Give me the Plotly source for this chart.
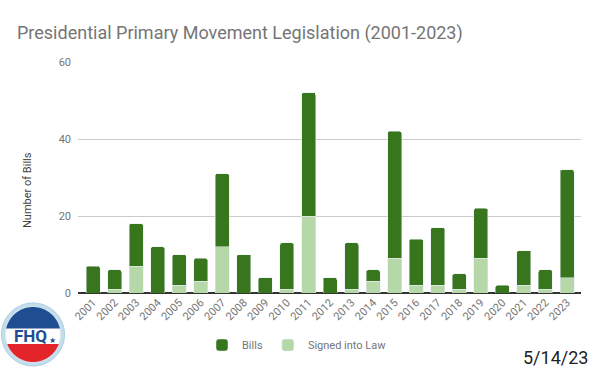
import math
import plotly.graph_objects as go

years = [str(y) for y in range(2001, 2024)]
bills = [7, 6, 18, 12, 10, 9, 31, 10, 4, 13, 52, 4, 13, 6, 42, 14, 17, 5, 22, 2, 11, 6, 32]
signed = [0, 1, 7, 0, 2, 3, 12, 0, 0, 1, 20, 0, 1, 3, 9, 2, 2, 1, 9, 0, 2, 1, 4]
y_ticks = [0, 20, 40, 60]

DARK = "#38761d"
LIGHT = "#b6d7a8"
GRAY = "#757575"
FONT = "Roboto"

W, H = 600, 371
L, R, T, B = 78, 19, 62, 78
PW, PH = W - L - R, H - T - B


def px(x):
    return (x - L) / PW


def py(y):
    return (H - B - y) / PH


unsigned = [b - s for b, s in zip(bills, signed)]

fig = go.Figure()
fig.add_trace(go.Bar(x=years, y=signed, name="Signed into Law", marker_color=LIGHT,
                     legendrank=2))
fig.add_trace(go.Bar(x=years, y=unsigned, name="Bills", marker_color=DARK,
                     legendrank=1))


def circle_path(cx, cy, r, n=120):
    pts = []
    for i in range(n):
        t = 2 * math.pi * i / n
        pts.append((cx + r * math.cos(t), cy + r * math.sin(t)))
    return "M " + " L ".join(f"{px(a):.5f},{py(b):.5f}" for a, b in pts) + " Z"


def cap_path(cx, cy, r, c, top=True, n=80):
    k = max(-1, min(1, (c - cy) / r))
    a = math.asin(k)
    if top:
        t0, t1 = math.pi - a, 2 * math.pi + a
    else:
        t0, t1 = a, math.pi - a
    pts = []
    for i in range(n + 1):
        t = t0 + (t1 - t0) * i / n
        pts.append((cx + r * math.cos(t), cy + r * math.sin(t)))
    return "M " + " L ".join(f"{px(x):.5f},{py(y):.5f}" for x, y in pts) + " Z"


cx, cy = 33, 334.5
shapes = [
    dict(type="path", xref="paper", yref="paper", path=circle_path(cx, cy, 31.5),
         fillcolor="#c3dfee", line=dict(color="#a9cfe3", width=1), layer="above"),
    dict(type="path", xref="paper", yref="paper", path=circle_path(cx, cy, 27.5),
         fillcolor="#ffffff", line=dict(color="#e6e6e6", width=1), layer="above"),
    dict(type="path", xref="paper", yref="paper", path=cap_path(cx, cy, 27.5, 328.5, True),
         fillcolor="#1f4d92", line=dict(width=0), layer="above"),
    dict(type="path", xref="paper", yref="paper", path=cap_path(cx, cy, 27.5, 344, False),
         fillcolor="#e3242b", line=dict(width=0), layer="above"),
]

annotations = [
    dict(text="<b>FHQ</b>", x=px(30), y=py(336), xref="paper", yref="paper",
         xanchor="center", yanchor="middle",
         showarrow=False, font=dict(family=FONT, size=17, color="#1f4d92")),
    dict(text="★", x=px(52), y=py(340), xref="paper", yref="paper",
         xanchor="center", yanchor="middle",
         showarrow=False, font=dict(family="DejaVu Sans", size=8, color="#1f4d92")),
    dict(text="5/14/23", x=px(590), y=py(357), xref="paper", yref="paper",
         xanchor="right", yanchor="middle", showarrow=False,
         font=dict(family=FONT, size=18, color="#222222")),
    dict(text="Number of Bills", x=px(27), y=py(190), xref="paper", yref="paper",
         xanchor="center", yanchor="middle",
         textangle=-90, showarrow=False,
         font=dict(family=FONT, size=11, color="#444444")),
]

fig.update_layout(
    width=W, height=H,
    margin=dict(l=L, r=R, t=T, b=B, pad=0, autoexpand=False),
    paper_bgcolor="white", plot_bgcolor="white",
    barmode="stack", bargap=0.35, barcornerradius=2,
    font=dict(family=FONT, color=GRAY, size=11),
    title=dict(text="Presidential Primary Movement Legislation (2001-2023)",
               x=17 / W, xanchor="left", y=1 - 33 / H, yanchor="middle",
               font=dict(family=FONT, size=18, color=GRAY)),
    showlegend=True,
    legend=dict(orientation="h", x=px(297), xanchor="center", y=py(345), yanchor="middle",
                font=dict(family=FONT, size=11, color=GRAY), traceorder="normal",
                itemwidth=30, bgcolor="rgba(0,0,0,0)"),
    xaxis=dict(type="category", range=[-0.7, 22.65], tickangle=-45, automargin=False,
               tickfont=dict(family=FONT, size=11, color=GRAY), showgrid=False,
               showline=False, ticks="", fixedrange=True),
    yaxis=dict(range=[0, 60], tickvals=y_ticks, showgrid=True, gridcolor="#cccccc",
               gridwidth=1, zeroline=True, zerolinecolor="#333333", zerolinewidth=1.5,
               automargin=False,
               tickfont=dict(family=FONT, size=11, color=GRAY), ticks="", ticklabelstandoff=6,
               showline=False),
    shapes=shapes,
    annotations=annotations,
)

fig.write_html("out.html", config={"displayModeBar": False},
               post_script="document.body.style.margin='0';document.body.style.padding='0';")
